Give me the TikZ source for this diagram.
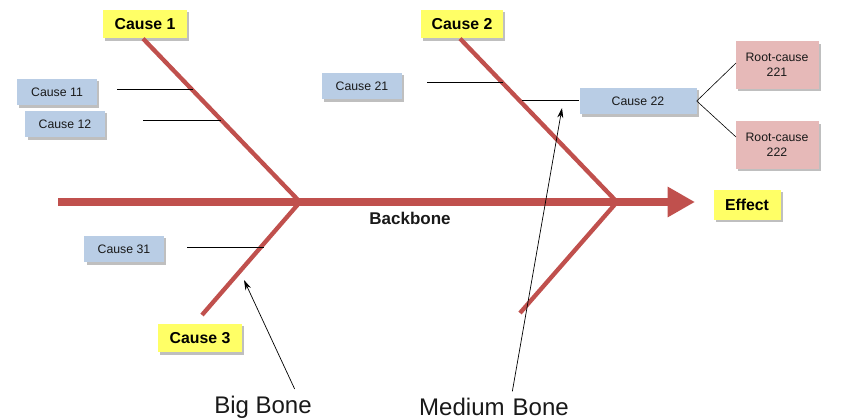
\documentclass[tikz,border=0pt]{standalone}
\usepackage{fontspec}
\setmainfont{Liberation Sans}
\usetikzlibrary{arrows.meta,shadows}
\definecolor{bonered}{HTML}{C0504D}
\definecolor{causeyellow}{HTML}{FFFF66}
\definecolor{subblue}{HTML}{B9CDE5}
\definecolor{rootpink}{HTML}{E6B9B8}
\tikzset{
  shad/.style={drop shadow={shadow xshift=0.07cm,shadow yshift=-0.07cm,fill=black,opacity=0.25}},
  mainbox/.style={shad,fill=causeyellow,inner sep=0pt,minimum width=2.52cm,minimum height=0.86cm,
    font=\fontsize{13.5}{15}\selectfont\bfseries},
  subbox/.style={shad,fill=subblue,inner sep=0pt,minimum width=2.4cm,minimum height=0.8cm,
    font=\fontsize{10.5}{12}\selectfont,text=black!90},
  rootbox/.style={shad,fill=rootpink,inner sep=0pt,minimum width=2.49cm,minimum height=1.41cm,
    align=center,font=\fontsize{10.5}{12.5}\selectfont,text=black!90},
  bone/.style={draw=bonered,line width=0.13cm},
  backbone/.style={draw=bonered,line width=0.24cm,-{Triangle[length=0.82cm,width=0.86cm]}},
  subline/.style={draw=black,line width=0.7pt},
  pointer/.style={draw=black,line width=0.6pt,-{Stealth[length=0.3cm,width=0.18cm]}},
  bigtext/.style={font=\fontsize{20.5}{23}\selectfont,text=black!90},
}
\begin{document}
\begin{tikzpicture}[x=0.03cm,y=-0.03cm]
\useasboundingbox (0,0) rectangle (855,420);
% junctions and free ends
\coordinate (j1) at (300,202);
\coordinate (j2) at (617,202);
\coordinate (bbstart) at (58,202);
\coordinate (bbend) at (695,202);
\coordinate (b3end) at (202,315);
\coordinate (b4end) at (520,313);
% nodes
\node[mainbox] (c1) at (145,24) {Cause 1};
\node[mainbox,minimum width=2.46cm] (c2) at (462,24) {Cause 2};
\node[mainbox] (c3) at (200,338) {Cause 3};
\node[mainbox,minimum width=2.01cm,minimum height=0.9cm] (eff) at (747,205) {Effect};
\node[subbox] (c11) at (57,92) {Cause 11};
\node[subbox,minimum width=2.37cm] (c12) at (65,124) {Cause 12};
\node[subbox] (c21) at (362,86) {Cause 21};
\node[subbox,minimum width=3.51cm] (c22) at (638,101) {Cause 22};
\node[subbox,minimum width=2.37cm] (c31) at (124,249) {Cause 31};
\node[rootbox] (r221) at (777,65) {Root-cause\\221};
\node[rootbox] (r222) at (777,145) {Root-cause\\222};
\node[font=\fontsize{14.5}{16}\selectfont\bfseries,text=black!90] (bbl) at (410,218) {Backbone};
\node[bigtext] (bigb) at (263,407) {Big Bone};
\node[bigtext] (medb) at (494,407) {Medium\,\,Bone};
% backbone
\draw[backbone] (bbstart) -- (bbend);
% bones
\draw[bone] ([xshift=-0.06cm]c1.south) -- (j1);
\draw[bone] ([xshift=-0.06cm]c2.south) -- (j2);
\draw[bone] (j1) -- (b3end);
\draw[bone] (j2) -- (b4end);
% sub-cause lines
\coordinate (s11a) at (117,89); \coordinate (s11b) at (193,89);
\coordinate (s12a) at (143,120); \coordinate (s12b) at (221,120);
\coordinate (s21a) at (427,82); \coordinate (s21b) at (503,82);
\coordinate (s22a) at (522,100);
\coordinate (s31a) at (187,247); \coordinate (s31b) at (264,247);
\draw[subline] (s11a) -- (s11b);
\draw[subline] (s12a) -- (s12b);
\draw[subline] (s21a) -- (s21b);
\draw[subline] (s22a) -- (c22.west |- s22a);
\draw[subline] (s31a) -- (s31b);
% root cause lines
\coordinate (r1end) at (736,63);
\coordinate (r2end) at (736,137);
\draw[subline,line width=0.5pt] (c22.east) -- (r1end);
\draw[subline,line width=0.5pt] (c22.east) -- (r2end);
% pointers
\coordinate (bigtip) at (244,280);
\coordinate (medtip) at (562,108);
\draw[pointer] ([xshift=0.95cm,yshift=0.08cm]bigb.north) -- (bigtip);
\draw[pointer] ([xshift=0.55cm,yshift=0.08cm]medb.north) -- (medtip);
\end{tikzpicture}
\end{document}
